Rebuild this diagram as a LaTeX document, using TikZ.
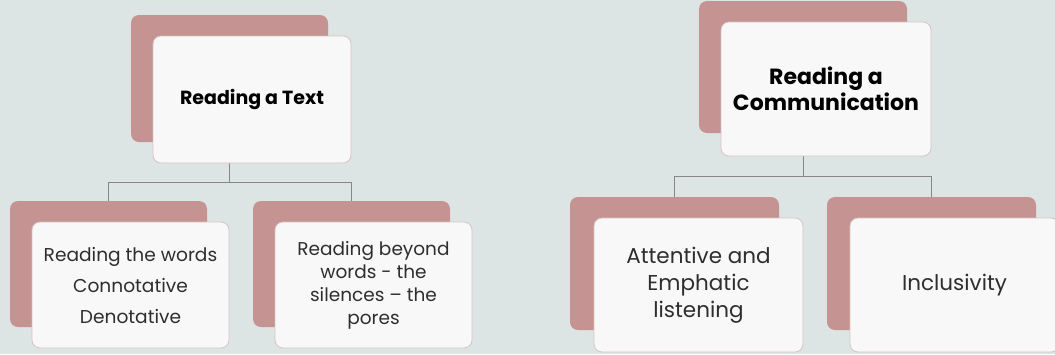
\documentclass[tikz,border=0pt]{standalone}
\usepackage{fontspec}
\setmainfont{Poppins}
\definecolor{bgc}{RGB}{221,228,228}
\definecolor{rose}{RGB}{197,148,146}
\definecolor{frontc}{RGB}{248,248,248}
\definecolor{edgec}{RGB}{214,196,194}
\definecolor{linec}{RGB}{135,135,135}
\begin{document}
\begin{tikzpicture}[x=1pt,y=-1pt,
  back/.style={draw=none,fill=rose,rounded corners=8pt,inner sep=0pt},
  front/.style={draw=edgec,line width=0.8pt,fill=frontc,rounded corners=8pt,inner sep=0pt,align=center,text=black!82},
  conn/.style={draw=linec,line width=0.9pt}]
\fill[bgc] (0,0) rectangle (1055,354);
\useasboundingbox (0,0) rectangle (1055,354);
% back boxes
\node[back,minimum width=197pt,minimum height=127pt] (T1b) at (229.5,78.5) {};
\node[back,minimum width=197pt,minimum height=126pt] (C1b) at (108.5,264) {};
\node[back,minimum width=197pt,minimum height=126pt] (C2b) at (351.5,264) {};
\node[back,minimum width=208pt,minimum height=132pt] (T2b) at (803,67) {};
\node[back,minimum width=209pt,minimum height=133pt] (D1b) at (674.5,263.5) {};
\node[back,minimum width=209pt,minimum height=133pt] (D2b) at (931.5,263.5) {};
% connectors
\coordinate (j1) at (229.5,182);
\coordinate (j2) at (803,176);
\draw[conn] (T1b.center) -- (j1) -| (C1b.north);
\draw[conn] (j1) -| (C2b.north);
\draw[conn] (T2b.center) -- (j2) -| (D1b.north);
\draw[conn] (j2) -| (D2b.north);
% front boxes
\node[front,minimum width=198pt,minimum height=127pt,font=\fontsize{19}{24}\selectfont\bfseries,text=black] (T1) at (252,99.5) {Reading a Text};
\node[front,minimum width=197pt,minimum height=126pt,font=\fontsize{18.6}{31}\selectfont] (C1) at (130.5,285) {Reading the words\\Connotative\\Denotative};
\node[front,minimum width=197pt,minimum height=126pt,font=\fontsize{18.5}{23}\selectfont] (C2) at (373.5,285) {Reading beyond\\words - the\\silences -- the\\pores};
\node[front,minimum width=210pt,minimum height=134pt,font=\fontsize{22}{26}\selectfont\bfseries,text=black] (T2) at (826,89) {Reading a\\Communication};
\node[front,minimum width=209pt,minimum height=134pt,font=\fontsize{21.5}{27}\selectfont] (D1) at (698.5,285) {Attentive and\\Emphatic\\listening};
\node[front,minimum width=209pt,minimum height=134pt,font=\fontsize{21.5}{27}\selectfont] (D2) at (954.5,285) {Inclusivity};
\end{tikzpicture}
\end{document}
